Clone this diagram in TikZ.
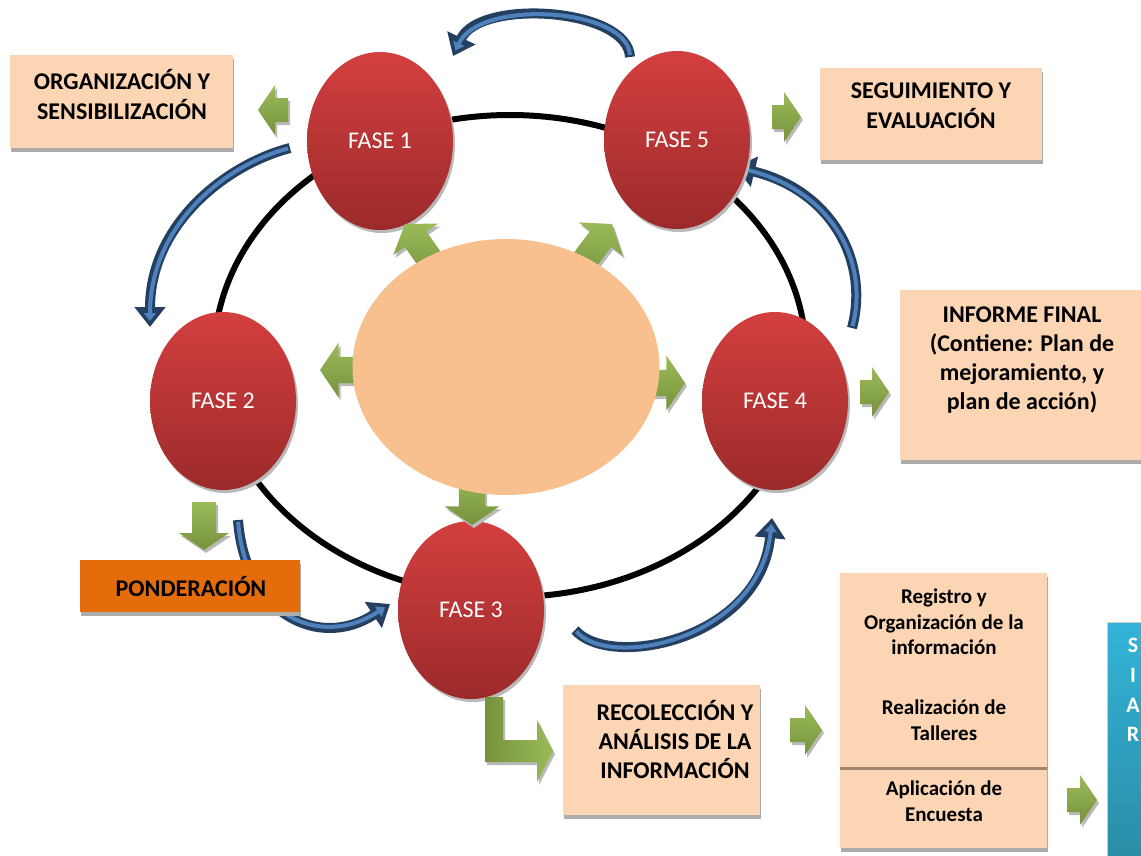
\documentclass[tikz,border=0pt]{standalone}
\usepackage{fontspec}
\setmainfont{Carlito}
\usepackage{tikz}
\usetikzlibrary{shapes.geometric,shadows,arrows.meta}

\definecolor{cajaclara}{HTML}{FCD5B5}
\definecolor{centro}{HTML}{F9C08F}
\definecolor{fasearriba}{HTML}{D33F3F}
\definecolor{faseabajo}{HTML}{9C2A2A}
\definecolor{naranja}{HTML}{E46C0A}
\definecolor{verdeclaro}{HTML}{9BBB59}
\definecolor{verdeoscuro}{HTML}{76923C}
\definecolor{azuloscuro}{HTML}{243F60}
\definecolor{azulclaro}{HTML}{4F81BD}
\definecolor{siararriba}{HTML}{33B4D8}
\definecolor{siarabajo}{HTML}{2A8CA6}
\definecolor{divisor}{HTML}{9E8670}

\tikzset{
  sombra/.style={drop shadow={shadow xshift=1pt, shadow yshift=-4pt, fill=gray!65, opacity=1}},
  fase/.style={ellipse, minimum width=146pt, minimum height=178pt, inner sep=0pt,
    top color=fasearriba, bottom color=faseabajo, text=white,
    font=\fontsize{24}{28}\selectfont,
    drop shadow={shadow xshift=2pt, shadow yshift=-3pt, fill=gray!55, opacity=1}},
  caja/.style={rectangle, fill=cajaclara, inner sep=0pt, sombra},
  textocaja/.style={align=center, font=\bfseries\fontsize{24}{30}\selectfont},
  textocol/.style={align=center, font=\bfseries\fontsize{21}{25.5}\selectfont},
  giro/.style={line width=10pt, draw=azuloscuro, -{Triangle[length=20pt,width=30pt]}},
  giroin/.style={line width=4pt, draw=azulclaro, shorten <=2pt, shorten >=6pt,
    -{Triangle[length=8pt,width=12pt]}},
  garrow/.pic={
    \shade[top color=verdeclaro, bottom color=verdeoscuro,
      drop shadow={shadow xshift=2pt, shadow yshift=-3pt, fill=gray!55, opacity=1}]
      (0,0) -- (-17,25) -- (-17,12) -- (-#1,12) -- (-#1,-12) -- (-17,-12) -- (-17,-25) -- cycle;
  }
}

\newcommand{\flechaazul}[1]{\draw[giro] #1; \draw[giroin] #1;}

\begin{document}
\begin{tikzpicture}[x=1pt, y=-1pt]
  \useasboundingbox (0,0) rectangle (1141,855);

  % anillo
  \draw[line width=6pt] (510,356) ellipse (296 and 241);

  % flechas azules curvas
  \flechaazul{(630,57) .. controls (628,8) and (480,-2) .. (453,56)}
  \flechaazul{(290,148) .. controls (225,165) and (150,225) .. (150,327)}
  \flechaazul{(852,328) .. controls (870,260) and (830,190) .. (735,167)}
  \flechaazul{(238,520) .. controls (245,615) and (320,650) .. (390,604)}
  \flechaazul{(575,630) .. controls (610,670) and (760,640) .. (772,518)}

  % fases
  \node[fase] (fase1) at (380,141) {FASE 1};
  \node[fase] (fase5) at (677,140) {FASE 5};
  \node[fase] (fase2) at (223,401) {FASE 2};
  \node[fase] (fase4) at (775,401) {FASE 4};
  \node[fase] (fase3) at (471,610) {FASE 3};

  % flechas verdes del centro
  \pic[rotate=125, scale=1.1] at (405,224) {garrow=55};
  \pic[rotate=53, scale=1.1] at (612,224) {garrow=55};
  \pic[rotate=180, scale=1.1] at (320,370) {garrow=50};
  \pic[scale=1.1] at (685,383) {garrow=50};
  \pic[rotate=-90, scale=1.1] at (472,525) {garrow=50};

  \node[ellipse, fill=centro, minimum width=307pt, minimum height=256pt] (centro) at (506,367) {};

  % flechas verdes laterales
  \pic[rotate=180] at (258,110) {garrow=30};
  \pic at (801,117) {garrow=29};
  \pic at (889,392) {garrow=29};
  \pic[rotate=-90] at (204,550) {garrow=48};
  \pic at (822,730) {garrow=32};
  \pic at (1097,800) {garrow=30};

  % flecha en L
  \shade[left color=verdeoscuro, right color=verdeclaro,
    drop shadow={shadow xshift=2pt, shadow yshift=-3pt, fill=gray!55, opacity=1}]
    (485,697) -- (503,697) -- (503,740) -- (537,740) -- (537,720) -- (553,751)
    -- (537,782) -- (537,762) -- (485,762) -- cycle;

  % cajas
  \node[caja, minimum width=223pt, minimum height=93pt] (orgcaja) at (121.5,101.5) {};
  \node[textocaja] (orgtexto) at (122,94) {ORGANIZACIÓN Y\\SENSIBILIZACIÓN};

  \node[caja, minimum width=222pt, minimum height=92pt] (segcaja) at (931,114) {};
  \node[textocaja] (segtexto) at (931,106) {SEGUIMIENTO Y\\EVALUACIÓN};

  \node[caja, minimum width=241pt, minimum height=170pt] (infcaja) at (1020.5,375) {};
  \node[textocaja, font=\bfseries\fontsize{24}{29}\selectfont] (inftexto) at (1022,360)
    {INFORME FINAL\\(Contiene: Plan de\\mejoramiento, y\\plan de acción)};

  \node[caja, fill=naranja, minimum width=220pt, minimum height=52pt] (pondcaja) at (190,586) {};
  \node[textocaja, font=\bfseries\fontsize{24}{28}\selectfont] (pondtexto) at (191,586) {PONDERACIÓN};

  \node[caja, minimum width=197pt, minimum height=130pt] (reccaja) at (661.5,750) {};
  \node[textocaja, font=\bfseries\fontsize{24}{29}\selectfont] (rectexto) at (675,739)
    {RECOLECCIÓN Y\\ANÁLISIS DE LA\\INFORMACIÓN};

  \node[caja, minimum width=207pt, minimum height=275pt] (colcaja) at (943.5,710.5) {};
  \draw[divisor, line width=3pt] (colcaja.west |- 0,768) -- (colcaja.east |- 0,768);
  \node[textocol] (registro) at (944,622) {Registro y\\Organización de la\\información};
  \node[textocol] (talleres) at (944,720) {Realización de\\Talleres};
  \node[textocol] (encuesta) at (944,801) {Aplicación de\\Encuesta};

  \node[rectangle, top color=siararriba, bottom color=siarabajo, draw=gray!40, line width=1pt,
    minimum width=60pt, minimum height=240pt] (siarcaja) at (1137,742) {};
  \node[textocaja, text=white, font=\bfseries\fontsize{22}{29.6}\selectfont] (siartexto) at (1133,690) {S\\I\\A\\R};
\end{tikzpicture}
\end{document}
